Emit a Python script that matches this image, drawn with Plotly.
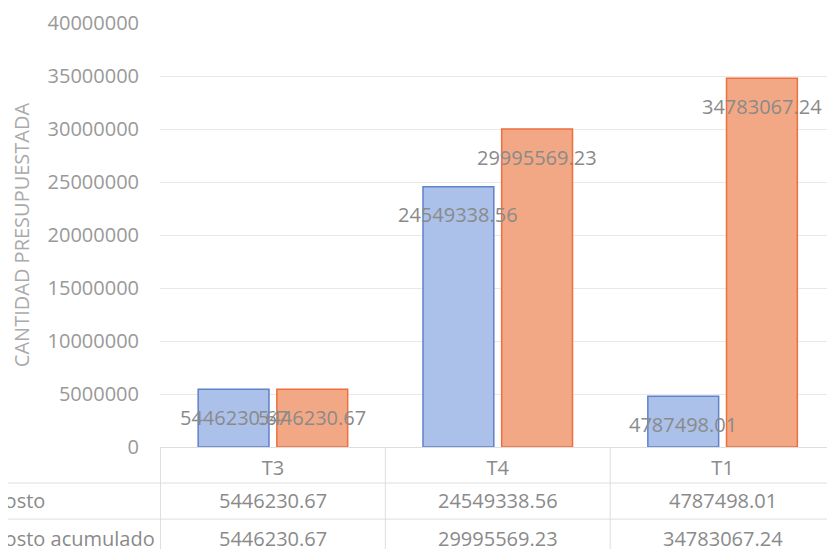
import plotly.graph_objects as go

categories = ["T3", "T4", "T1"]
costo = [5446230.67, 24549338.56, 4787498.01]
costo_acumulado = [5446230.67, 29995569.23, 34783067.24]
series_names = ["Costo", "Costo acumulado"]
y_ticks = [0, 5000000, 10000000, 15000000, 20000000, 25000000, 30000000, 35000000, 40000000]

FONT = "Open Sans"
GRAY = "#999999"
LBL = "#8a8a8a"
LINE = "#dedede"

fig = go.Figure()
fig.add_trace(go.Bar(
    name=series_names[0], x=categories, y=costo,
    marker=dict(color="#abc1e9", line=dict(color="#5f82c9", width=1.5)),
    hoverinfo="skip",
))
fig.add_trace(go.Bar(
    name=series_names[1], x=categories, y=costo_acumulado,
    marker=dict(color="#f3a885", line=dict(color="#ee6e3e", width=1.5)),
    hoverinfo="skip",
))

def fmt(v):
    return f"{v:.2f}"

annotations = []
# data labels on bars
for i, c in enumerate(categories):
    for vals, shift in ((costo, -39.4), (costo_acumulado, 39.4)):
        annotations.append(dict(
            x=c, y=vals[i], xref="x", yref="y", text=fmt(vals[i]),
            showarrow=False, xshift=shift, yshift=-28,
            font=dict(family=FONT, size=20, color=LBL),
            xanchor="center", yanchor="middle",
        ))

# data table rows
row_y = [-0.127, -0.215]
for vals, ry in zip((costo, costo_acumulado), row_y):
    for i, c in enumerate(categories):
        annotations.append(dict(
            x=c, y=ry, xref="x", yref="paper", text=fmt(vals[i]),
            showarrow=False, font=dict(family=FONT, size=20, color=LBL),
            xanchor="center", yanchor="middle",
        ))
for name, ry in zip(series_names, row_y):
    annotations.append(dict(
        x=-0.252, y=ry, xref="paper", yref="paper", text=name,
        showarrow=False, font=dict(family=FONT, size=20, color=LBL),
        xanchor="left", yanchor="middle",
    ))

shapes = []
# vertical table lines at category boundaries
for b in (-0.5, 0.5, 1.5):
    shapes.append(dict(type="line", xref="x", yref="paper", x0=b, x1=b,
                       y0=0, y1=-0.3, line=dict(color=LINE, width=1)))
for hy in (-0.085, -0.17):
    shapes.append(dict(type="line", xref="paper", yref="paper", x0=-0.3, x1=1,
                       y0=hy, y1=hy, line=dict(color=LINE, width=1)))

fig.update_layout(
    width=835, height=549,
    margin=dict(l=152, r=8, t=15, b=110, autoexpand=False),
    paper_bgcolor="white", plot_bgcolor="white",
    barmode="group", bargap=0.3, bargroupgap=0.1,
    showlegend=False,
    font=dict(family=FONT, size=20, color=GRAY),
    annotations=annotations, shapes=shapes,
    xaxis=dict(
        type="category", showline=True, linecolor=LINE, linewidth=1,
        showgrid=False, tickfont=dict(family=FONT, size=20, color=LBL),
        ticks="", ticklabelstandoff=3, fixedrange=True,
    ),
    yaxis=dict(
        range=[0, 40000000], tickvals=y_ticks, tickformat="d",
        showgrid=True, gridcolor="#e8e8e8", gridwidth=1,
        zeroline=False, showline=False,
        tickfont=dict(family=FONT, size=20, color=GRAY),
        ticklabelstandoff=20,
        title=dict(text="CANTIDAD PRESUPUESTADA", standoff=12,
                   font=dict(family=FONT, size=20, color="#aaaaaa")),
        automargin=False, fixedrange=True,
    ),
)

fig.write_html("out.html")
